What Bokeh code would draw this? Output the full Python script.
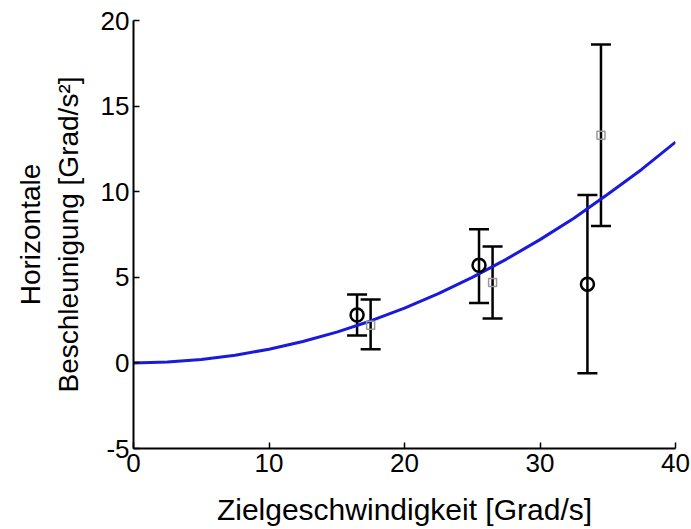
from bokeh.plotting import figure
from bokeh.models import ColumnDataSource, Whisker, TeeHead, FixedTicker, Range1d
from bokeh.embed import file_html
from bokeh.resources import INLINE

# Fitted curve
curve_x = [0, 2.5, 5, 7.5, 10, 12.5, 15, 17.5, 20, 22.5, 25, 27.5, 30, 32.5, 35, 37.5, 40]
curve_y = [0, 0.05, 0.2, 0.45, 0.8, 1.25, 1.8, 2.45, 3.2, 4.05, 5.0, 6.05, 7.2, 8.45, 9.85, 11.3, 12.9]

# Circle series
circ_x = [16.5, 25.5, 33.5]
circ_y = [2.8, 5.7, 4.6]
circ_lo = [1.6, 3.5, -0.6]
circ_hi = [4.0, 7.8, 9.8]

# Square series
sq_x = [17.5, 26.5, 34.5]
sq_y = [2.2, 4.7, 13.3]
sq_lo = [0.8, 2.6, 8.0]
sq_hi = [3.7, 6.8, 18.6]

x_ticks = [0, 10, 20, 30, 40]
y_ticks = [-5, 0, 5, 10, 15, 20]
y_tick_labels = {-5: "-5", 0: "0", 5: "5", 10: "10", 15: "15", 20: "20"}

FONT = "Liberation Sans"

p = figure(width=690, height=528, output_backend="svg", toolbar_location=None,
           x_range=Range1d(0, 40), y_range=Range1d(-5, 20),
           min_border_left=133, min_border_right=15, min_border_top=20, min_border_bottom=78)
p.outline_line_color = None
p.xgrid.visible = False
p.ygrid.visible = False

for ax in (p.xaxis[0], p.yaxis[0]):
    ax.axis_line_width = 2
    ax.axis_line_color = "black"
    ax.major_tick_in = 6
    ax.major_tick_out = 0
    ax.major_tick_line_width = 1.5
    ax.minor_tick_line_color = None
    ax.major_label_text_font = FONT
    ax.major_label_text_font_size = "26px"
    ax.major_label_text_color = "black"
    ax.axis_label_text_font = FONT
    ax.axis_label_text_font_style = "normal"
    ax.axis_label_text_color = "black"

p.xaxis.axis_label_text_font_size = "30px"
p.yaxis.axis_label_text_font_size = "28px"
p.xaxis.ticker = FixedTicker(ticks=x_ticks)
p.yaxis.ticker = FixedTicker(ticks=y_ticks)
p.yaxis.major_label_overrides = y_tick_labels
p.xaxis.axis_label = "Zielgeschwindigkeit [Grad/s]"
p.yaxis.axis_label = "Horizontale\nBeschleunigung [Grad/s²]"
p.xaxis.major_label_standoff = 5
p.xaxis.axis_label_standoff = 18
p.yaxis.major_label_standoff = 4
p.yaxis.axis_label_standoff = 14

p.line(curve_x, curve_y, line_color="#1a1adb", line_width=3)

csrc = ColumnDataSource(dict(x=circ_x, y=circ_y, lo=circ_lo, hi=circ_hi))
ssrc = ColumnDataSource(dict(x=sq_x, y=sq_y, lo=sq_lo, hi=sq_hi))

p.scatter("x", "y", source=ssrc, marker="square", size=8, fill_color=None,
          line_color="#999999", line_width=1.5)

for src in (csrc, ssrc):
    w = Whisker(source=src, base="x", upper="hi", lower="lo",
                line_color="black", line_width=2.5,
                upper_head=TeeHead(size=20, line_color="black", line_width=2.5),
                lower_head=TeeHead(size=20, line_color="black", line_width=2.5))
    p.add_layout(w)

p.scatter("x", "y", source=csrc, marker="circle", size=13, fill_color=None,
          line_color="black", line_width=2.5)

open("out.html", "w").write(file_html(p, INLINE))
